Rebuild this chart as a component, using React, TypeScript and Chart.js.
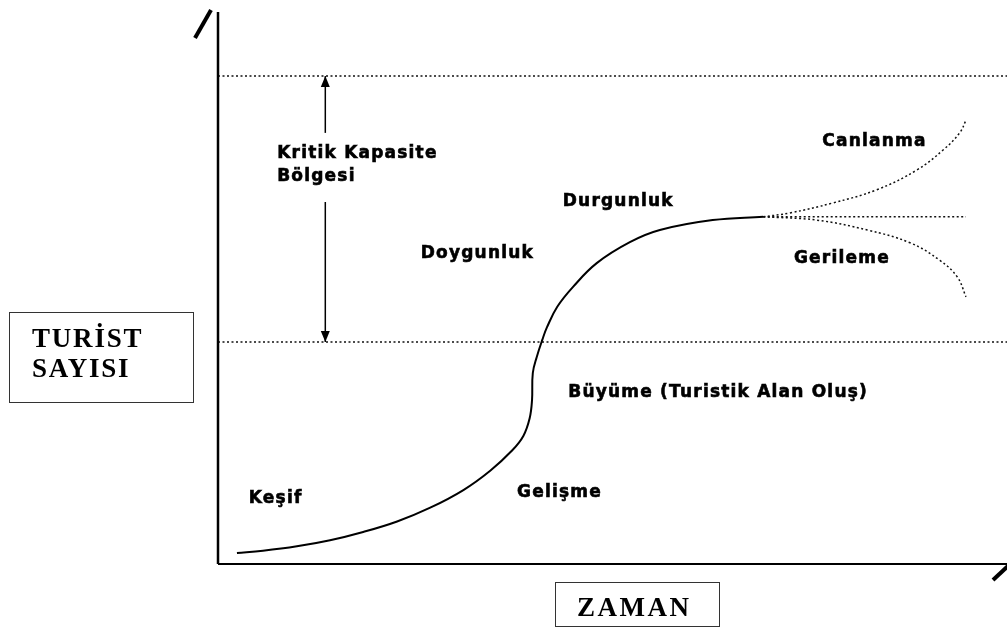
import React, { useEffect, useRef } from "react";
import { Chart, registerables } from "chart.js";

Chart.register(...registerables);

// Main life-cycle curve (time units 0-100, tourist units 0-100)
const curveX = [2.4, 5.7, 10.0, 14.2, 18.4, 22.7, 26.9, 31.1, 34.5, 37.3, 38.7, 39.5, 39.8, 39.9, 40.4, 41.1, 41.7, 43.0, 45.0, 48.0, 52.2, 56.0, 62.7, 69.1];
const curveY = [2.0, 2.4, 3.2, 4.3, 5.8, 7.7, 10.2, 13.4, 16.9, 20.6, 23.2, 26.4, 29.7, 34.6, 37.5, 40.6, 42.9, 46.6, 50.2, 54.5, 58.3, 60.5, 62.3, 62.9];

// Dotted continuations
const flatX = [69.1, 94.8];
const flatY = [62.9, 62.9];
const reviveX = [69.1, 72.5, 77.9, 83.5, 88.6, 91.9, 94.0, 94.8];
const reviveY = [62.9, 63.6, 65.4, 67.8, 71.4, 75.0, 78.1, 80.4];
const declineX = [69.1, 75.9, 82.3, 87.7, 91.5, 93.7, 94.8];
const declineY = [62.9, 62.3, 60.5, 58.2, 55.0, 52.0, 48.4];

// Critical capacity band limits
const capacityUpper = 88.4;
const capacityLower = 40.2;
const arrowX = 13.6;
const arrowUpperFrom = 78.1;
const arrowLowerFrom = 65.6;

// Stage labels
const stageText = ["Kritik Kapasite", "Bölgesi", "Doygunluk", "Durgunluk", "Canlanma", "Gerileme", "Büyüme (Turistik Alan Oluş)", "Gelişme", "Keşif"];
const stageX = [7.5, 7.5, 25.7, 43.7, 76.6, 73.0, 44.4, 37.9, 3.9];
const stageY = [73.6, 69.4, 55.4, 64.9, 75.7, 54.5, 30.3, 12.1, 11.1];

const yTitleLines = ["TURİST", "SAYISI"];
const xTitle = "ZAMAN";

const pts = (xs: number[], ys: number[]) => xs.map((x, i) => ({ x, y: ys[i] }));

const decorPlugin = {
  id: "decor",
  afterDatasetsDraw(chart: any) {
    const ctx = chart.ctx as CanvasRenderingContext2D;
    const { left, top, right, bottom } = chart.chartArea;
    const xs = chart.scales.x;
    const ys = chart.scales.y;
    ctx.save();
    // axes
    ctx.strokeStyle = "#000";
    ctx.lineWidth = 2.5;
    ctx.beginPath();
    ctx.moveTo(left, top);
    ctx.lineTo(left, bottom);
    ctx.stroke();
    ctx.lineWidth = 2;
    ctx.beginPath();
    ctx.moveTo(left, bottom);
    ctx.lineTo(right, bottom);
    ctx.stroke();
    // break slashes
    ctx.lineWidth = 4;
    ctx.beginPath();
    ctx.moveTo(left - 23, top + 26);
    ctx.lineTo(left - 7, top - 2);
    ctx.stroke();
    ctx.beginPath();
    ctx.moveTo(right - 14, bottom + 16);
    ctx.lineTo(right + 1, bottom + 2);
    ctx.stroke();

    // arrowheads
    ctx.fillStyle = "#000";
    const ax = xs.getPixelForValue(arrowX);
    const ayTop = ys.getPixelForValue(capacityUpper);
    const ayBot = ys.getPixelForValue(capacityLower);
    ctx.beginPath();
    ctx.moveTo(ax, ayTop);
    ctx.lineTo(ax - 4.5, ayTop + 11);
    ctx.lineTo(ax + 4.5, ayTop + 11);
    ctx.closePath();
    ctx.fill();
    ctx.beginPath();
    ctx.moveTo(ax, ayBot);
    ctx.lineTo(ax - 4.5, ayBot - 11);
    ctx.lineTo(ax + 4.5, ayBot - 11);
    ctx.closePath();
    ctx.fill();

    // stage labels
    ctx.font = "bold 17px 'DejaVu Sans'";
    (ctx as any).letterSpacing = "1.2px";
    ctx.textBaseline = "alphabetic";
    ctx.textAlign = "left";
    ctx.lineWidth = 0.6;
    ctx.strokeStyle = "#000";
    stageText.forEach((t, i) => {
      const px = xs.getPixelForValue(stageX[i]);
      const py = ys.getPixelForValue(stageY[i]);
      ctx.fillText(t, px, py);
      ctx.strokeText(t, px, py);
    });

    // axis title boxes
    (ctx as any).letterSpacing = "1.8px";
    ctx.font = "bold 27px 'Liberation Serif'";
    ctx.lineWidth = 1;
    ctx.strokeStyle = "#333";
    ctx.strokeRect(9.5, 312.5, 184, 90);
    ctx.fillText(yTitleLines[0], 32, 347);
    ctx.fillText(yTitleLines[1], 32, 377);
    (ctx as any).letterSpacing = "2.5px";
    ctx.strokeRect(555.5, 582.5, 164, 44);
    ctx.fillText(xTitle, 577, 616);
    ctx.restore();
  },
};

export default function App() {
  const ref = useRef<HTMLCanvasElement>(null);
  useEffect(() => {
    if (!ref.current) return;
    const dotted = { borderColor: "#111", borderWidth: 1.5, borderDash: [2, 2.5], pointRadius: 0, showLine: true, fill: false };
    const chart = new Chart(ref.current, {
      type: "scatter",
      data: {
        datasets: [
          { data: pts(curveX, curveY), borderColor: "#000", borderWidth: 2, pointRadius: 0, showLine: true, tension: 0.4 } as any,
          { data: pts(flatX, flatY), ...dotted } as any,
          { data: pts(reviveX, reviveY), ...dotted, tension: 0.4 } as any,
          { data: pts(declineX, declineY), ...dotted, tension: 0.4 } as any,
          { data: [{ x: 0, y: capacityUpper }, { x: 100, y: capacityUpper }], ...dotted } as any,
          { data: [{ x: 0, y: capacityLower }, { x: 100, y: capacityLower }], ...dotted } as any,
          { data: [{ x: arrowX, y: arrowUpperFrom }, { x: arrowX, y: capacityUpper }], borderColor: "#000", borderWidth: 1.5, pointRadius: 0, showLine: true } as any,
          { data: [{ x: arrowX, y: arrowLowerFrom }, { x: arrowX, y: capacityLower }], borderColor: "#000", borderWidth: 1.5, pointRadius: 0, showLine: true } as any,
        ],
      },
      options: {
        responsive: false,
        animation: false,
        layout: { padding: { left: 218, top: 12, right: 0, bottom: 64 } },
        scales: {
          x: { type: "linear", min: 0, max: 100, display: false },
          y: { type: "linear", min: 0, max: 100, display: false },
        },
        plugins: { legend: { display: false }, tooltip: { enabled: false } },
      },
      plugins: [decorPlugin],
    });
    return () => chart.destroy();
  }, []);
  return (
    <div style={{ position: "absolute", left: 0, top: 0, width: 1007, height: 628, background: "#fff" }}>
      <canvas ref={ref} width={1007} height={628} style={{ display: "block" }} />
    </div>
  );
}
